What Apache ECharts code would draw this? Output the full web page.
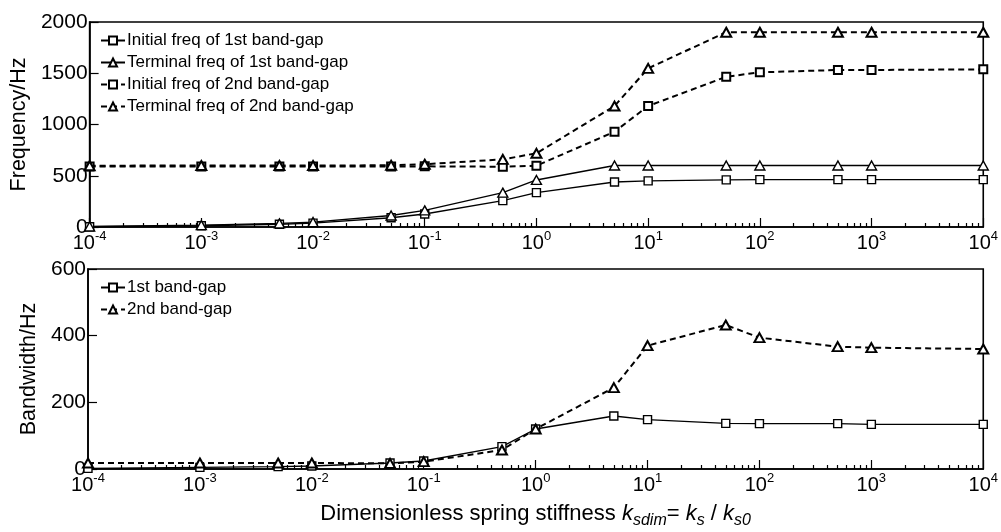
<!DOCTYPE html>
<html>
<head>
<meta charset="utf-8">
<script src="https://cdn.jsdelivr.net/npm/echarts@6/dist/echarts.min.js"></script>
<style>
html,body{margin:0;padding:0;background:#fff;}
#c{width:1001px;height:532px;}
</style>
</head>
<body>
<div id="c"></div>
<script>
// ---- data ----
var stiffness = [1e-4, 1e-3, 5e-3, 1e-2, 5e-2, 1e-1, 5e-1, 1, 5, 10, 50, 100, 500, 1000, 10000];
var initFreq1 = [3, 12, 27, 38, 90, 127, 257, 335, 439, 450, 460, 462, 462, 462, 462];
var termFreq1 = [5, 18, 35, 48, 112, 162, 335, 459, 600, 600, 600, 600, 600, 600, 600];
var initFreq2 = [590, 590, 590, 590, 590, 592, 588, 598, 930, 1180, 1466, 1509, 1532, 1532, 1538];
var termFreq2 = [598, 600, 600, 600, 602, 612, 660, 719, 1180, 1548, 1900, 1900, 1900, 1900, 1900];
var bandwidth1 = [2, 5, 7, 9, 18, 24, 67, 120, 159, 148, 137, 136, 136, 134, 134];
var bandwidth2 = [18, 18, 18, 18, 17, 22, 57, 120, 244, 370, 432, 394, 367, 364, 360];
var decadeTicks = [1e-4, 1e-3, 1e-2, 1e-1, 1, 10, 100, 1000, 10000];
var freqTicks = [0, 500, 1000, 1500, 2000];
var bwTicks = [0, 200, 400, 600];
var names = ['Initial freq of 1st band-gap', 'Terminal freq of 1st band-gap',
             'Initial freq of 2nd band-gap', 'Terminal freq of 2nd band-gap'];
var bwNames = ['1st band-gap', '2nd band-gap'];

// minor log ticks (2..9 within each decade)
var minorTicks = [];
for (var d = 0; d < decadeTicks.length - 1; d++) {
  for (var m = 2; m <= 9; m++) minorTicks.push(decadeTicks[d] * m);
}

function pairs(xs, ys) { return xs.map(function (x, i) { return [x, ys[i]]; }); }

var FONT = "'Liberation Sans', Arial, sans-serif";
var chart = echarts.init(document.getElementById('c'), null, {renderer: 'canvas'});

function mainX(gridIndex, showName) {
  var ax = {
    type: 'log', logBase: 10, gridIndex: gridIndex, min: 1e-4, max: 1e4,
    axisLine: {show: true, lineStyle: {color: '#000', width: 1.6}},
    axisTick: {show: true, inside: true, length: 9, customValues: decadeTicks, lineStyle: {color: '#000', width: 1.2}},
    splitLine: {show: false},
    axisLabel: {
      show: true, margin: 3, color: '#000', fontFamily: FONT, fontSize: 20, lineHeight: 26,
      customValues: decadeTicks,
      formatter: function (v) { return '10{sup|' + Math.round(Math.log10(v)) + '}'; },
      rich: {sup: {fontSize: 13, lineHeight: 13, verticalAlign: 'top', fontFamily: FONT, color: '#000'}}
    }
  };
  if (showName) {
    ax.name = 'Dimensionless spring stiffness {i|k}{sub|sdim}= {i|k}{sub|s} / {i|k}{sub|s0}';
    ax.nameLocation = 'middle';
    ax.nameGap = 28;
    ax.nameTextStyle = {
      color: '#000', fontFamily: FONT, fontSize: 22, lineHeight: 30,
      rich: {
        i: {fontStyle: 'italic', fontSize: 22, lineHeight: 30, fontFamily: FONT, color: '#000'},
        sub: {fontStyle: 'italic', fontSize: 16, lineHeight: 16, verticalAlign: 'bottom', fontFamily: FONT, color: '#000'}
      }
    };
  }
  return ax;
}
function minorX(gridIndex) {
  return {
    type: 'log', logBase: 10, gridIndex: gridIndex, min: 1e-4, max: 1e4, position: 'bottom',
    axisLine: {show: false},
    axisTick: {show: true, inside: true, length: 4, customValues: minorTicks, lineStyle: {color: '#000', width: 1.2}},
    axisLabel: {show: false}, splitLine: {show: false}
  };
}
function yAx(gridIndex, max, interval, ticks, name, gap) {
  return {
    type: 'value', gridIndex: gridIndex, min: 0, max: max, interval: interval,
    name: name, nameLocation: 'middle', nameGap: gap,
    nameTextStyle: {color: '#000', fontFamily: FONT, fontSize: 21.5},
    axisLine: {show: true, lineStyle: {color: '#000', width: 1.6}},
    axisTick: {show: true, inside: true, length: 9, lineStyle: {color: '#000', width: 1.2}},
    splitLine: {show: false},
    axisLabel: {margin: 2, color: '#000', fontFamily: FONT, fontSize: 21, customValues: ticks,
      formatter: function (v) { return String(v); }}
  };
}

function lineSeries(name, data, xi, yi, symbol, dashed) {
  return {
    name: name, type: 'line', xAxisIndex: xi, yAxisIndex: yi, data: data,
    symbol: symbol, symbolSize: symbol === 'triangle' ? [10, 9] : 8,
    clip: false, animation: false,
    lineStyle: {color: '#000', width: dashed ? 2 : 1.4, type: dashed ? [6, 4] : 'solid'},
    itemStyle: {color: '#fff', borderColor: '#000', borderWidth: dashed ? 2 : 1.4},
    emphasis: {disabled: true}
  };
}

var legendCommon = {
  orient: 'vertical', left: 95, itemWidth: 24, itemHeight: 10, itemGap: 5,
  textStyle: {color: '#000', fontFamily: FONT, fontSize: 17, padding: [0, 0, 0, -3]},
  selectedMode: false
};

var option = {
  backgroundColor: '#fff',
  animation: false,
  grid: [
    {left: 88, right: 13, top: 22, height: 205, show: true, borderColor: '#000', borderWidth: 1.6, backgroundColor: 'transparent'},
    {left: 88, right: 13, top: 269, height: 200, show: true, borderColor: '#000', borderWidth: 1.6, backgroundColor: 'transparent'}
  ],
  legend: [
    Object.assign({}, legendCommon, {top: 27, data: names}),
    Object.assign({}, legendCommon, {top: 274, data: bwNames})
  ],
  xAxis: [mainX(0, false), minorX(0), mainX(1, true), minorX(1)],
  yAxis: [
    yAx(0, 2000, 500, freqTicks, 'Frequency/Hz', 51),
    yAx(1, 600, 200, bwTicks, 'Bandwidth/Hz', 40)
  ],
  series: [
    lineSeries(names[0], pairs(stiffness, initFreq1), 0, 0, 'rect', false),
    lineSeries(names[1], pairs(stiffness, termFreq1), 0, 0, 'triangle', false),
    lineSeries(names[2], pairs(stiffness, initFreq2), 0, 0, 'rect', true),
    lineSeries(names[3], pairs(stiffness, termFreq2), 0, 0, 'triangle', true),
    lineSeries(bwNames[0], pairs(stiffness, bandwidth1), 2, 1, 'rect', false),
    lineSeries(bwNames[1], pairs(stiffness, bandwidth2), 2, 1, 'triangle', true)
  ]
};
chart.setOption(option);
</script>
</body>
</html>
